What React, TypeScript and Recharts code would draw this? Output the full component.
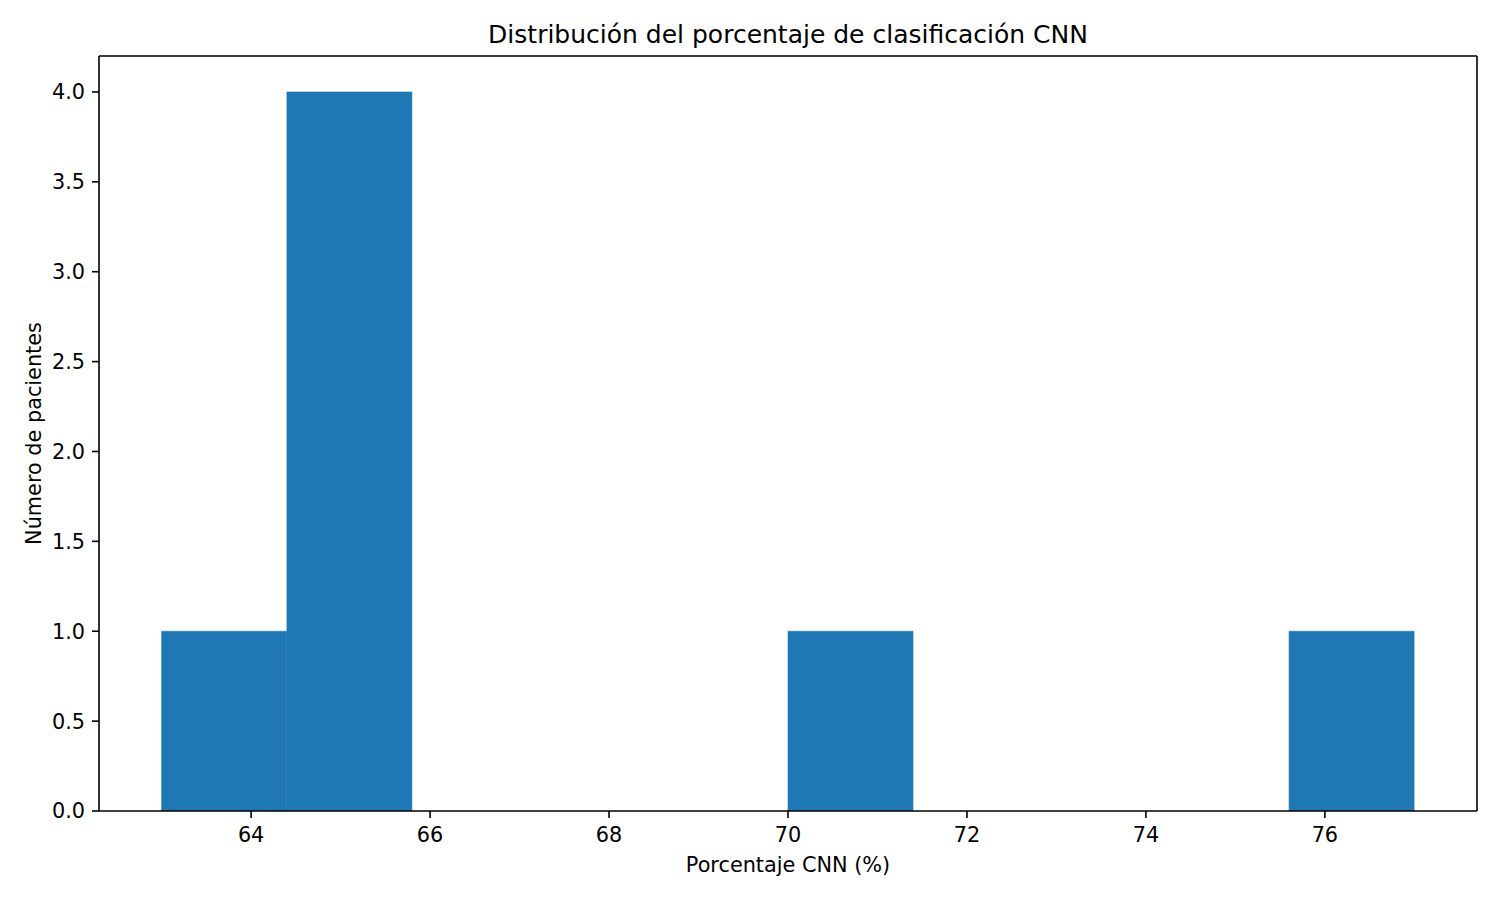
import { ComposedChart, Bar, XAxis, YAxis, Label } from "recharts";

const binCenters = [63.7, 65.1, 66.5, 67.9, 69.3, 70.7, 72.1, 73.5, 74.9, 76.3];
const counts = [1, 4, 0, 0, 0, 1, 0, 0, 0, 1];
const xTicks = [64, 66, 68, 70, 72, 74, 76];
const yTicks = [0, 0.5, 1, 1.5, 2, 2.5, 3, 3.5, 4];

const title = "Distribución del porcentaje de clasificación CNN";
const xLabel = "Porcentaje CNN (%)";
const yLabel = "Número de pacientes";

const data = binCenters.map((c, i) => ({ center: c, count: counts[i] }));

const FONT = "'DejaVu Sans', sans-serif";
const tickStyle = { fill: "#000", fontSize: 20.8, fontFamily: FONT };
const axisLine = { stroke: "#000", strokeWidth: 1.6 };

const App = () => {
  return (
    <div style={{ position: "absolute", left: 0, top: 0, width: 1500, height: 900, background: "#fff" }}>
      {/* Title */}
      <svg width={1500} height={56} style={{ position: "absolute", left: 0, top: 0 }}>
        <text x={788} y={43} textAnchor="middle" fontSize={25} fontFamily={FONT} fill="#000">
          {title}
        </text>
      </svg>
      <ComposedChart
        width={1500}
        height={900}
        data={data}
        margin={{ top: 55, right: 22, bottom: 0, left: 0 }}
        barCategoryGap={0}
        barGap={0}
      >
        <XAxis
          xAxisId="main"
          dataKey="center"
          type="number"
          domain={[62.3, 77.7]}
          ticks={xTicks}
          allowDataOverflow
          height={89}
          tickSize={7}
          tickMargin={9}
          tick={tickStyle}
          axisLine={axisLine}
          tickLine={axisLine}
        >
          <Label
            content={({ viewBox }: any) => (
              <text
                x={viewBox.x + viewBox.width / 2}
                y={872}
                textAnchor="middle"
                fontSize={20.8}
                fontFamily={FONT}
                fill="#000"
              >
                {xLabel}
              </text>
            )}
          />
        </XAxis>
        {/* top spine */}
        <XAxis
          xAxisId="top"
          orientation="top"
          dataKey="center"
          type="number"
          domain={[62.3, 77.7]}
          allowDataOverflow
          height={1}
          tickSize={0}
          tick={false}
          tickLine={false}
          axisLine={axisLine}
        />
        <YAxis
          yAxisId="main"
          type="number"
          domain={[0, 4.2]}
          ticks={yTicks}
          allowDataOverflow
          width={99}
          tickSize={7}
          tickMargin={7}
          tick={tickStyle}
          tickFormatter={(v: number) => v.toFixed(1)}
          axisLine={axisLine}
          tickLine={axisLine}
        >
          <Label
            content={({ viewBox }: any) => {
              const cx = 34;
              const cy = viewBox.y + viewBox.height / 2;
              return (
                <text
                  x={cx}
                  y={cy}
                  transform={`rotate(-90 ${cx} ${cy})`}
                  textAnchor="middle"
                  dominantBaseline="central"
                  fontSize={20.8}
                  fontFamily={FONT}
                  fill="#000"
                >
                  {yLabel}
                </text>
              );
            }}
          />
        </YAxis>
        {/* right spine */}
        <YAxis
          yAxisId="right"
          orientation="right"
          type="number"
          domain={[0, 4.2]}
          allowDataOverflow
          width={1}
          tickSize={0}
          tick={false}
          tickLine={false}
          axisLine={axisLine}
        />
        <Bar
          xAxisId="main"
          yAxisId="main"
          dataKey="count"
          fill="#1f77b4"
          stroke="#1f77b4"
          strokeWidth={0.6}
          isAnimationActive={false}
        />
      </ComposedChart>
    </div>
  );
};

export default App;
